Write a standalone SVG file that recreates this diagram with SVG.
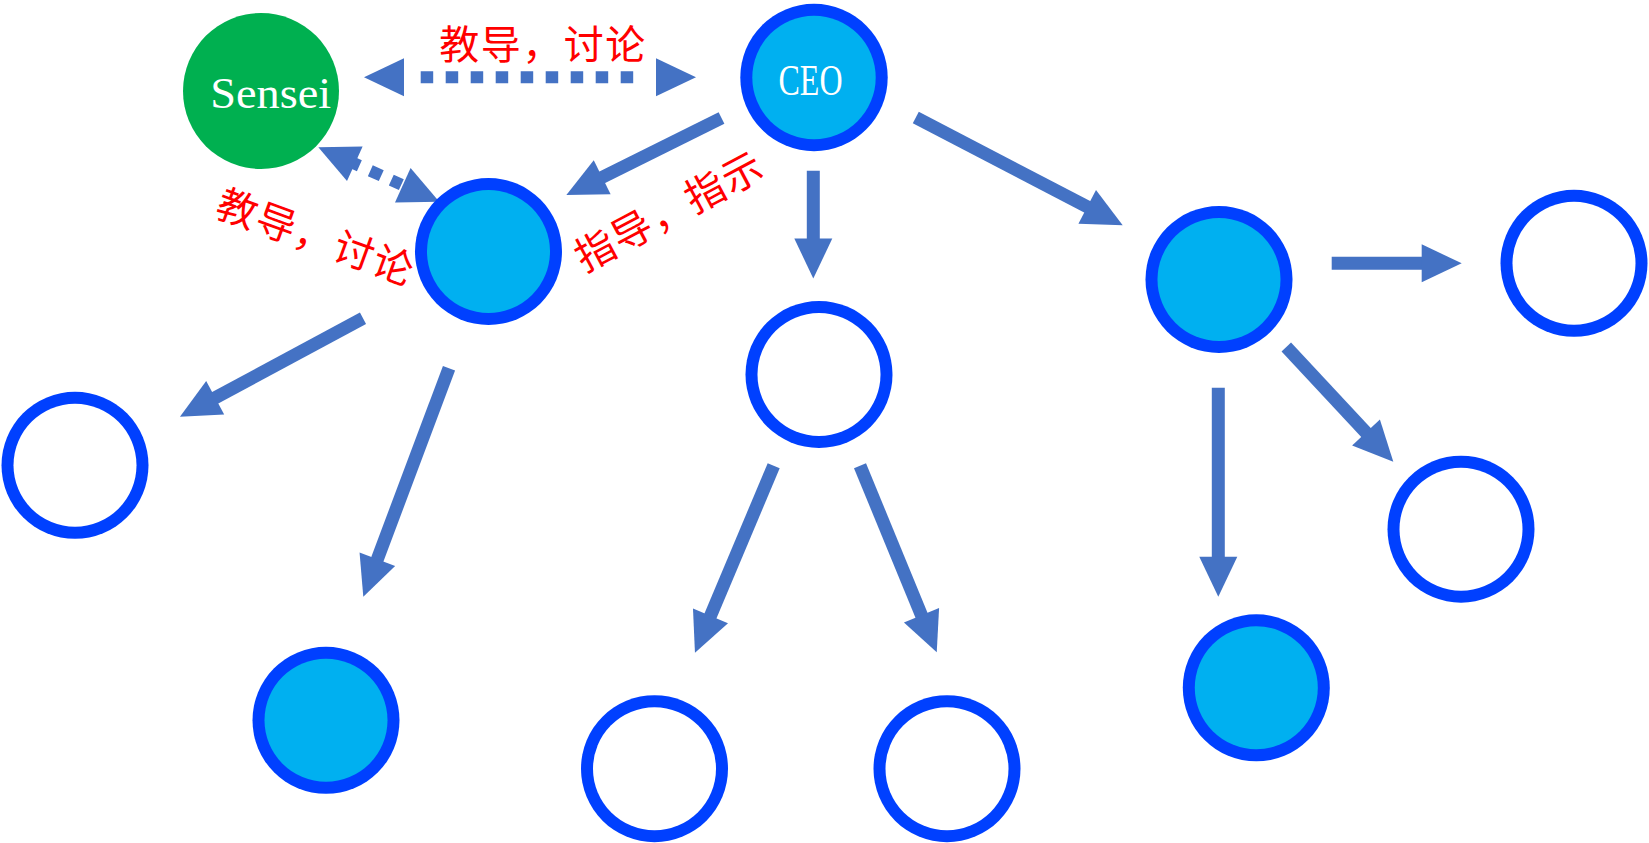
<svg xmlns="http://www.w3.org/2000/svg" width="1649" height="843" viewBox="0 0 1649 843">
<style>
.ring{fill:#0040FF}
.inf{fill:#00B0F0}
.ine{fill:#FFFFFF}
.lat{font-family:"Liberation Serif","DejaVu Serif",serif;fill:#FFFFFF;font-size:45px;text-anchor:middle}
.lbl{font-family:"Noto Sans CJK SC","Noto Sans CJK JP",sans-serif;fill:#FF0000;font-size:40px;text-anchor:middle;dominant-baseline:central;letter-spacing:1.5px}
.ln{fill:none;stroke:#4472C4;stroke-width:13;marker-end:url(#ah)}
.dl{fill:none;stroke:#4472C4;stroke-width:12;marker-end:url(#ah);marker-start:url(#ahs)}
</style>
<defs>
<marker id="ah" markerUnits="userSpaceOnUse" markerWidth="42" markerHeight="42" viewBox="-1 -20 42 40" refX="0" refY="0" orient="auto" overflow="visible">
<path d="M-1,-19 L39,0 L-1,19 z" fill="#4472C4"/>
</marker>
<marker id="ahs" markerUnits="userSpaceOnUse" markerWidth="42" markerHeight="42" viewBox="-1 -20 42 40" refX="0" refY="0" orient="auto-start-reverse" overflow="visible">
<path d="M-1,-19 L39,0 L-1,19 z" fill="#4472C4"/>
</marker>
</defs>
<rect width="1649" height="843" fill="#FFFFFF"/>
<g id="connectors">
<path class="dl" d="M403,77.3 L657,77.3" stroke-dasharray="0 17.7 12.5 12.5 12.5 12.5 12.5 12.5 12.5 12.5 12.5 12.5 12.5 12.5 12.5 12.5 12.5 12.5 12.5 60"/>
<path class="dl" d="M353.9,163.3 L403.7,185.7" stroke-dasharray="6 12 12 11 11 50"/>
<path class="ln" d="M721.5,118 L601.3,177.7"/>
<path class="ln" d="M813.3,170.7 L813.3,239.5"/>
<path class="ln" d="M915.8,117.5 L1088.1,207.3"/>
<path class="ln" d="M1331.7,263.3 L1422.7,263.3"/>
<path class="ln" d="M1218.3,387.7 L1218.3,557.7"/>
<path class="ln" d="M1286.3,347 L1366.7,433.2"/>
<path class="ln" d="M363,318.3 L214.3,398.2"/>
<path class="ln" d="M449,368.3 L377,560.2"/>
<path class="ln" d="M773.7,465.7 L710.1,616.8"/>
<path class="ln" d="M860,465.7 L921.9,616.2"/>
</g>
<g id="labels">
<text class="lbl" x="543" y="41.7">教导，讨论</text>
<text class="lbl" x="316.7" y="235" transform="rotate(20 316.7 235)">教导，讨论</text>
<text class="lbl" x="668" y="209" transform="rotate(-28 668 209)">指导，指示</text>
</g>
<g id="sensei">
<circle cx="261" cy="91" r="78" fill="#00B050"/>
<text class="lat" x="270.7" y="108.3" textLength="121" lengthAdjust="spacingAndGlyphs">Sensei</text>
</g>
<g id="ceo">
<circle class="ring" cx="814" cy="77.5" r="73.7"/><circle class="inf" cx="814" cy="77.5" r="61.7"/>
<text class="lat" x="810.5" y="95" textLength="64" lengthAdjust="spacingAndGlyphs">CEO</text>
</g>
<g id="node-a"><circle class="ring" cx="488.5" cy="251.5" r="73.5"/><circle class="inf" cx="488.5" cy="251.5" r="61.5"/></g>
<g id="node-b"><circle class="ring" cx="819" cy="374.5" r="73.5"/><circle class="ine" cx="819" cy="374.5" r="61.5"/></g>
<g id="node-c"><circle class="ring" cx="1219" cy="279.5" r="73.5"/><circle class="inf" cx="1219" cy="279.5" r="61.5"/></g>
<g id="node-d"><circle class="ring" cx="1574" cy="263.3" r="73.5"/><circle class="ine" cx="1574" cy="263.3" r="61.5"/></g>
<g id="node-e"><circle class="ring" cx="75" cy="465.3" r="73.5"/><circle class="ine" cx="75" cy="465.3" r="61.5"/></g>
<g id="node-f"><circle class="ring" cx="326" cy="720.3" r="73.5"/><circle class="inf" cx="326" cy="720.3" r="61.5"/></g>
<g id="node-g"><circle class="ring" cx="654.5" cy="768.7" r="73.5"/><circle class="ine" cx="654.5" cy="768.7" r="61.5"/></g>
<g id="node-h"><circle class="ring" cx="947" cy="768.7" r="73.5"/><circle class="ine" cx="947" cy="768.7" r="61.5"/></g>
<g id="node-i"><circle class="ring" cx="1461" cy="529.2" r="73.5"/><circle class="ine" cx="1461" cy="529.2" r="61.5"/></g>
<g id="node-j"><circle class="ring" cx="1256.3" cy="687.8" r="73.5"/><circle class="inf" cx="1256.3" cy="687.8" r="61.5"/></g>
</svg>
